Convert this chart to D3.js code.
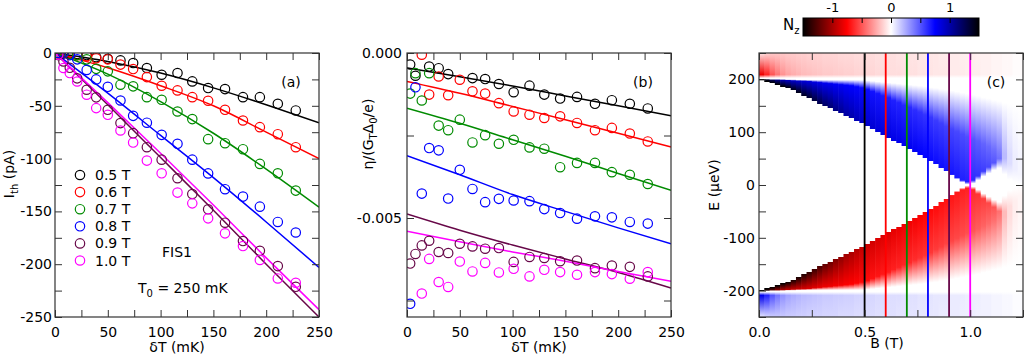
<!DOCTYPE html>
<html><head><meta charset="utf-8">
<script src="https://cdn.jsdelivr.net/npm/d3@7"></script>
<style>
body{margin:0;background:#fff}
text{font-family:"DejaVu Sans",sans-serif;fill:#000}
</style>
</head><body>
<svg id="c" width="1024" height="355"></svg>
<script>
// ---------- data ----------
const fieldLabels = ["0.5 T","0.6 T","0.7 T","0.8 T","0.9 T","1.0 T"];
const fieldB = [0.5,0.6,0.7,0.8,0.9,1.0];
const colors = ["#000000","#ff0000","#008b00","#0000ff","#670748","#ff00ff"];
const dT = [3,8,14,21,30,39,50,62,74,87,101,116,130,145,161,178,194,211,228];

// panel (a): thermoelectric current I_th (pA)
const Ith_05 = [0,-0.5,-0.5,-1,-2,-4,-5.5,-7,-9.5,-14.2,-20.6,-19,-26.9,-33.2,-34.2,-41.8,-41.8,-48.1,-54.4];
const Ith_06 = [-0.5,0,0.6,-2,-3,-5,-6,-11,-15.2,-22.8,-31,-35.4,-41.8,-45.2,-53.8,-63.9,-70.2,-76.9,-89.2];
const Ith_07 = [0,1,-1,-2,-6,-15,-17.4,-30,-31.6,-41.8,-44.3,-55.4,-62.6,-81.6,-85.4,-91.1,-105,-113.9,-130.3];
const Ith_08 = [0,0,-2,-6,-16,-25,-32,-45,-59.5,-66,-77.5,-86,-101,-114,-129,-136,-145.5,-160,-170];
const Ith_09 = [-2,-8,-14,-24,-34.8,-42,-53.8,-66.4,-75.9,-89.2,-101,-118.6,-133.5,-148,-160.7,-178.1,-187.3,-201.8,-221.4];
const Ith_10 = [-1.6,-14.2,-19,-27,-39.5,-52.2,-58.5,-73.4,-84.8,-101.9,-113.9,-132.2,-142.4,-156.6,-170.8,-182.8,-196,-213.5,-217.6];

const fitT = [0,50,100,150,200,250];
const fitA_05 = [0,-8,-19,-33,-49,-66];
const fitA_06 = [0,-14,-31,-50,-75,-100];
const fitA_07 = [0,-20,-46,-76,-110,-146];
const fitA_08 = [0,-38,-78,-118,-160,-203];
const fitA_09 = [0,-49,-99,-149,-200,-250];
const fitA_10 = [0,-47,-95,-144,-194,-243];

// panel (b): eta/(G_T Delta_0/e), values in units of 1e-3
const etaUnit = 1e-3;
const eta_05 = [-0.35,-0.69,null,-0.41,-0.46,-0.64,null,-0.76,-0.79,-0.94,-1.19,-0.99,-1.26,-1.38,-1.33,-1.54,-1.43,-1.54,-1.68];
const eta_06 = [null,null,-0.05,-1.26,-0.71,-1.28,-0.81,-1.16,-1.23,-1.52,-1.77,-1.87,-1.97,-1.92,-2.12,-2.34,-2.27,-2.44,-2.68];
const eta_07 = [-1.23,-0.61,-1.44,-0.61,-2.2,-2.34,-2.02,-2.71,-2.49,-2.75,-2.63,-2.86,-2.9,-3.46,-3.33,-3.33,-3.61,-3.69,-3.97];
const eta_08 = [-7.6,-1.04,-4.26,-2.88,-2.95,-4.41,-3.54,-4.12,-4.52,-4.42,-4.47,-4.49,-4.73,-4.85,-5.02,-4.95,-4.98,-5.12,-5.17];
const eta_09 = [-6.38,-6.09,-5.83,-5.69,-6.03,-6.06,-5.78,-5.86,-5.93,-5.91,-6.33,-6.18,-6.21,-6.31,-6.29,-6.52,-6.44,-6.48,-6.77];
const eta_10 = [null,null,-7.29,-6.24,-6.94,-7.09,-6.32,-6.62,-6.36,-6.65,-6.54,-6.77,-6.57,-6.64,-6.72,-6.64,-6.70,-6.84,-6.64];

const fitB_05 = [-0.45,-0.72,-1.0,-1.3,-1.6,-1.9];
const fitB_06 = [-0.86,-1.22,-1.62,-2.02,-2.43,-2.85];
const fitB_07 = [-1.67,-2.13,-2.63,-3.13,-3.65,-4.16];
const fitB_08 = [-3.11,-3.69,-4.29,-4.8,-5.3,-5.78];
const fitB_09 = [-4.88,-5.37,-5.82,-6.24,-6.65,-7.12];
const fitB_10 = [-5.4,-5.72,-6.03,-6.31,-6.62,-6.92];

// panel (c): spin polarisation N_z(B,E); upper half (E>0) read per B column (0.025 T wide),
// the lower half is its mirror image (E -> -E, N_z -> -N_z)
const heatB = [0.0125,0.0375,0.0625,0.0875,0.1125,0.1375,0.1625,0.1875,0.2125,0.2375,
               0.2625,0.2875,0.3125,0.3375,0.3625,0.3875,0.4125,0.4375,0.4625,0.4875,
               0.5125,0.5375,0.5625,0.5875,0.6125,0.6375,0.6625,0.6875,0.7125,0.7375,
               0.7625,0.7875,0.8125,0.8375,0.8625,0.8875,0.9125,0.9375,0.9625,0.9875,
               1.0125,1.0375,1.0625,1.0875,1.1125,1.1375,1.1625,1.1875,1.2125,1.2375];
const bandEdge = [198,196,193,190,186,183,179,174,169,164,
                  159,154,149,145,140,136,131,127,122,117,
                  111,106,100,95,89,84,79,73,68,62,
                  57,51,45,39,33,27,20,14,9,6,
                  9,17,26,34,42,50,50,40,30,20];
const bandTop  = [200,199.5,199,199,198.5,198,197.5,197,196.5,196,
                  195,194,193,192,191,190,189,188,186,184,
                  181,177,173,169,165,160,156,151,147,142,
                  138,133,128,122,117,111,106,101,96,91,
                  87,83,78,73,68,63,60,58,56,55];
const fadeTop  = [200.5,200.5,200.5,200.5,200.5,200,200,199.5,199.5,199,
                  199,199,199,199,199,199,199,199,199,199,
                  198,197,196,195,194,193,192,191,190,189,
                  188,187,185,184,182,181,179,177,175,173,
                  171,169,166,164,161,159,156,154,151,149];
const lowFade  = [0,0,0,0,0,0,0,0,0,0,
                  0,0,0,0,0,0,0,0,0,0,
                  0,0,0,0,0,0,0,0,0,0,
                  0,0,0,0,0,0,2,3,4,5,
                  6,8,10,12,14,18,30,30,25,20];
const nzEdge   = [1.5,1.5,1.5,1.5,1.5,1.5,1.45,1.45,1.4,1.38,
                  1.33,1.28,1.22,1.18,1.12,1.08,1.03,1.0,0.96,0.93,
                  0.9,0.88,0.86,0.85,0.84,0.82,0.81,0.8,0.79,0.78,
                  0.76,0.75,0.73,0.72,0.71,0.7,0.69,0.68,0.66,0.65,
                  0.62,0.6,0.57,0.54,0.5,0.42,0.2,0.1,0.05,0.03];
const nzTop    = [1.5,1.4,1.25,1.1,1.0,0.95,0.92,0.9,0.88,0.86,
                  0.84,0.82,0.8,0.8,0.78,0.78,0.76,0.75,0.74,0.73,
                  0.72,0.7,0.69,0.68,0.67,0.66,0.65,0.64,0.63,0.62,
                  0.61,0.6,0.59,0.58,0.57,0.56,0.55,0.54,0.53,0.52,
                  0.5,0.48,0.46,0.44,0.42,0.38,0.2,0.1,0.05,0.03];
const nzRed205 = [-0.8,-0.65,-0.5,-0.4,-0.32,-0.27,-0.24,-0.22,-0.2,-0.19,
                  -0.18,-0.17,-0.16,-0.16,-0.15,-0.15,-0.14,-0.14,-0.13,-0.13,
                  -0.12,-0.12,-0.11,-0.11,-0.1,-0.1,-0.1,-0.09,-0.09,-0.09,
                  -0.08,-0.08,-0.08,-0.07,-0.07,-0.07,-0.06,-0.06,-0.06,-0.05,
                  -0.05,-0.05,-0.04,-0.04,-0.03,-0.03,-0.02,-0.02,-0.01,-0.01];
const nzRed250 = [-0.08,-0.12,-0.15,-0.16,-0.16,-0.15,-0.15,-0.14,-0.14,-0.13,
                  -0.13,-0.13,-0.12,-0.12,-0.12,-0.11,-0.11,-0.11,-0.1,-0.1,
                  -0.1,-0.1,-0.09,-0.09,-0.09,-0.09,-0.08,-0.08,-0.08,-0.08,
                  -0.07,-0.07,-0.07,-0.07,-0.06,-0.06,-0.06,-0.06,-0.05,-0.05,
                  -0.05,-0.04,-0.04,-0.04,-0.03,-0.03,-0.02,-0.02,-0.01,-0.01];

const cbStops = [-1.5,-0.75,0,0.75,1.5];
const cbColors = ["#000000","#ff0000","#ffffff","#0000ff","#000000"];
const cbTicks = [-1,-0.5,0,0.5,1];
const cbLabels = {"-1":"-1","0":"0","1":"1"};

// tick values / labels
const aXminor = [0,25,50,75,100,125,150,175,200,225,250];
const aXlabels = {0:"0",50:"50",100:"100",150:"150",200:"200",250:"250"};
const aYminor = [0,-25,-50,-75,-100,-125,-150,-175,-200,-225,-250];
const aYlabels = {"0":"0","-50":"-50","-100":"-100","-150":"-150","-200":"-200","-250":"-250"};
const bYminor = [0,-0.0025,-0.005,-0.0075];
const bYlabels = {"0":"0.000","-0.005":"-0.005"};
const cXminor = [0,0.25,0.5,0.75,1.0,1.25];
const cXlabels = {"0":"0.0","0.5":"0.5","1":"1.0"};
const cYminor = [-250,-200,-150,-100,-50,0,50,100,150,200,250];
const cYlabels = {"-200":"-200","-100":"-100","0":"0","100":"100","200":"200"};

// ---------- drawing ----------
const svg = d3.select("#c");
const defs = svg.append("defs");
const TL = 7;

const xa = d3.scaleLinear([0,250],[55,319]);
const ya = d3.scaleLinear([-250,0],[317,53]);
const xb = d3.scaleLinear([0,250],[407,671]);
const yb = d3.scaleLinear([-0.008,0],[317,53]);
const xc = d3.scaleLinear([0,1.25],[759,1023]);
const yc = d3.scaleLinear([-250,250],[317,53]);
const nzColor = d3.scaleLinear().domain(cbStops).range(cbColors);

function clip(id,x,y){
  defs.append("clipPath").attr("id",id).append("rect")
    .attr("x",x.range()[0]).attr("y",y.range()[1])
    .attr("width",x.range()[1]-x.range()[0]).attr("height",y.range()[0]-y.range()[1]);
}
clip("ca",xa,ya); clip("cb",xb,yb); clip("cc",xc,yc);

function lab(obj){ return d => { const k = String(+d.toFixed(6)); return obj[k] !== undefined ? obj[k] : ""; }; }

function frame(x,y,xt,xl,yt,yl,ypad){
  const x0=x.range()[0], x1=x.range()[1], y0=y.range()[1], y1=y.range()[0];
  const st = g => { g.select(".domain").remove(); g.selectAll("line").attr("stroke","#333").attr("stroke-width",1);
                    g.selectAll("text").attr("font-size",14).attr("font-family","DejaVu Sans").attr("fill","#000"); };
  svg.append("g").attr("transform",`translate(0,${y1})`).call(d3.axisBottom(x).tickValues(xt).tickSize(-TL).tickPadding(10).tickFormat(lab(xl))).call(st);
  svg.append("g").attr("transform",`translate(0,${y0})`).call(d3.axisTop(x).tickValues(xt).tickSize(-TL).tickFormat("")).call(st);
  svg.append("g").attr("transform",`translate(${x0},0)`).call(d3.axisLeft(y).tickValues(yt).tickSize(-TL).tickPadding(ypad).tickFormat(lab(yl))).call(st);
  svg.append("g").attr("transform",`translate(${x1},0)`).call(d3.axisRight(y).tickValues(yt).tickSize(-TL).tickFormat("")).call(st);
  svg.append("rect").attr("x",x0).attr("y",y0).attr("width",x1-x0).attr("height",y1-y0)
    .attr("fill","none").attr("stroke","#333").attr("stroke-width",1.2);
}

// ----- panel (c) heat map -----
const gHeat = svg.append("g").attr("clip-path","url(#cc)");
const eTop = 250, eBot = -250, halfW = 0.0125;
const off = e => (yc(e)-yc(eTop))/(yc(eBot)-yc(eTop));
heatB.forEach((b,i)=>{
  const up = [[250,nzRed250[i]],[209,nzRed205[i]],[202.5,0]];
  if (fadeTop[i] < 202.5) up.push([fadeTop[i],0]);
  up.push([bandTop[i],nzTop[i]]);
  up.push([bandEdge[i],nzEdge[i]]);
  up.push([Math.max(0,bandEdge[i]-lowFade[i]),0]);
  up.push([0,0]);
  const low = up.slice().reverse().map(([e,v])=>[-e,-v]);
  const all = up.concat(low);
  const gr = defs.append("linearGradient").attr("id","hg"+i)
    .attr("x1",0).attr("y1",0).attr("x2",0).attr("y2",1);
  all.forEach(([e,v])=>gr.append("stop").attr("offset",off(e)).attr("stop-color",nzColor(Math.max(-1.5,Math.min(1.5,v)))));
  gHeat.append("rect").attr("x",xc(b-halfW)).attr("y",yc(eTop))
    .attr("width",xc(b+halfW)-xc(b-halfW)+0.6).attr("height",yc(eBot)-yc(eTop))
    .attr("fill",`url(#hg${i})`);
});
fieldB.forEach((b,i)=>{
  gHeat.append("line").attr("x1",xc(b)).attr("x2",xc(b)).attr("y1",yc(250)).attr("y2",yc(-250))
    .attr("stroke",colors[i]).attr("stroke-width",1.8);
});
frame(xc,yc,cXminor,cXlabels,cYminor,cYlabels,4);

// colorbar
const xcb = d3.scaleLinear([-1.5,1.5],[803,979]);
const cbg = defs.append("linearGradient").attr("id","cbg");
cbStops.forEach((s,i)=>cbg.append("stop").attr("offset",(xcb(s)-803)/(979-803)).attr("stop-color",cbColors[i]));
svg.append("rect").attr("x",803).attr("y",18).attr("width",176).attr("height",18).attr("fill","url(#cbg)")
  .attr("stroke","#000").attr("stroke-width",1);
svg.append("g").attr("transform","translate(0,18)")
  .call(d3.axisTop(xcb).tickValues(cbTicks).tickSize(-5).tickPadding(6).tickFormat(lab(cbLabels)))
  .call(g=>{g.select(".domain").remove(); g.selectAll("line").attr("stroke","#000");
            g.selectAll("text").attr("font-size",13).attr("font-family","DejaVu Sans").attr("fill","#000");});
const nz = svg.append("text").attr("x",783).attr("y",30).attr("font-size",15);
nz.append("tspan").text("N");
nz.append("tspan").attr("font-size",10).attr("dy",4).text("z");

// ----- panel (a) -----
const seriesA = [Ith_05,Ith_06,Ith_07,Ith_08,Ith_09,Ith_10];
const fitsA = [fitA_05,fitA_06,fitA_07,fitA_08,fitA_09,fitA_10];
const gA = svg.append("g").attr("clip-path","url(#ca)");
const lineA = d3.line().x(d=>xa(d[0])).y(d=>ya(d[1])).curve(d3.curveMonotoneX);
fitsA.forEach((f,i)=>gA.append("path").attr("d",lineA(fitT.map((t,j)=>[t,f[j]])))
  .attr("fill","none").attr("stroke",colors[i]).attr("stroke-width",1.5));
seriesA.forEach((s,i)=>gA.selectAll(null).data(dT.map((t,j)=>[t,s[j]]).filter(d=>d[1]!==null)).enter()
  .append("circle").attr("cx",d=>xa(d[0])).attr("cy",d=>ya(d[1])).attr("r",4.7)
  .attr("fill","none").attr("stroke",colors[i]).attr("stroke-width",1.2));
frame(xa,ya,aXminor,aXlabels,aYminor,aYlabels,3);

// legend
fieldLabels.forEach((l,i)=>{
  const yy = 175 + i*17.1;
  svg.append("circle").attr("cx",80).attr("cy",yy).attr("r",4.7).attr("fill","none")
    .attr("stroke",colors[i]).attr("stroke-width",1.2);
  svg.append("text").attr("x",95).attr("y",yy+5).attr("font-size",14).text(l);
});
svg.append("text").attr("x",162).attr("y",257).attr("font-size",14).text("FIS1");
const t0 = svg.append("text").attr("x",138).attr("y",293).attr("font-size",14);
t0.append("tspan").text("T");
t0.append("tspan").attr("font-size",10).attr("dy",4).text("0");
t0.append("tspan").attr("dy",-4).text(" = 250 mK");
svg.append("text").attr("x",291).attr("y",87).attr("font-size",14).attr("text-anchor","middle").text("(a)");

// ----- panel (b) -----
const seriesB = [eta_05,eta_06,eta_07,eta_08,eta_09,eta_10];
const fitsB = [fitB_05,fitB_06,fitB_07,fitB_08,fitB_09,fitB_10];
const gB = svg.append("g").attr("clip-path","url(#cb)");
const lineB = d3.line().x(d=>xb(d[0])).y(d=>yb(d[1]*etaUnit)).curve(d3.curveMonotoneX);
fitsB.forEach((f,i)=>gB.append("path").attr("d",lineB(fitT.map((t,j)=>[t,f[j]])))
  .attr("fill","none").attr("stroke",colors[i]).attr("stroke-width",1.5));
seriesB.forEach((s,i)=>gB.selectAll(null).data(dT.map((t,j)=>[t,s[j]]).filter(d=>d[1]!==null)).enter()
  .append("circle").attr("cx",d=>xb(d[0])).attr("cy",d=>yb(d[1]*etaUnit)).attr("r",4.7)
  .attr("fill","none").attr("stroke",colors[i]).attr("stroke-width",1.2));
frame(xb,yb,aXminor,aXlabels,bYminor,bYlabels,5);
svg.append("text").attr("x",643).attr("y",87).attr("font-size",14).attr("text-anchor","middle").text("(b)");
svg.append("text").attr("x",996).attr("y",87).attr("font-size",14).attr("text-anchor","middle").text("(c)");

// axis titles
function xTitle(x,y,parts){ const t=svg.append("text").attr("x",x).attr("y",y).attr("font-size",14).attr("text-anchor","middle");
  parts.forEach(p=>t.append("tspan").text(p)); }
xTitle(177,352,["δT (mK)"]);
xTitle(539,352,["δT (mK)"]);
xTitle(887,348,["B (T)"]);

function yTitle(x,y,parts){
  const t = svg.append("text").attr("transform",`translate(${x},${y}) rotate(-90)`).attr("font-size",14).attr("text-anchor","middle");
  let prevSub = false;
  parts.forEach(([s,sub])=>{
    const ts = t.append("tspan").text(s);
    if (sub) { ts.attr("font-size",10).attr("dy",prevSub?0:4); prevSub = true; }
    else { if (prevSub) ts.attr("dy",-4); prevSub = false; }
  });
}
yTitle(14,174,[["I"],["th",1],[" (pA)"]]);
yTitle(373,134,[["η/(G"],["T",1],["Δ"],["0",1],["/e)"]]);
yTitle(719,185,[["E (µeV)"]]);
</script>
</body></html>
